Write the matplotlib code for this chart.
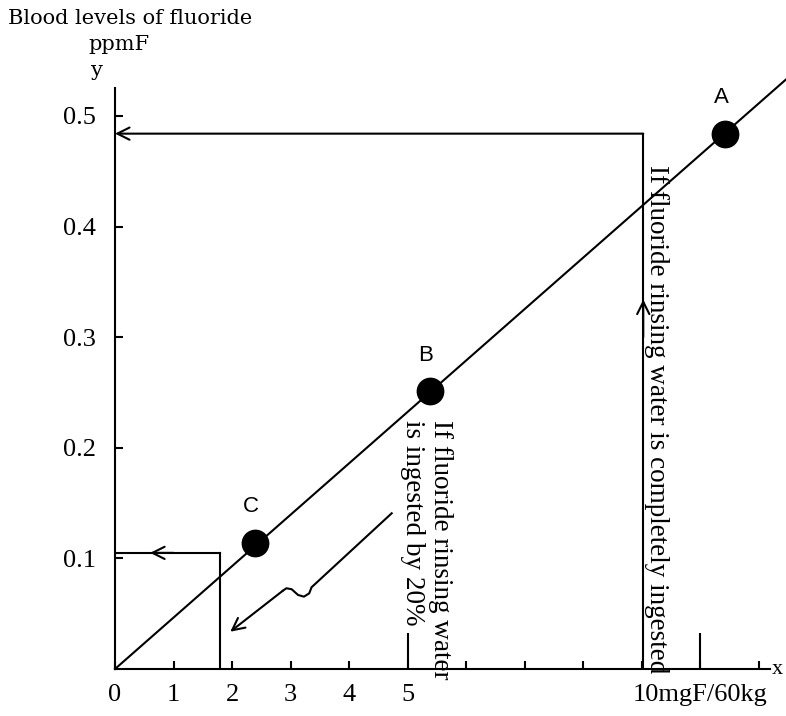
import matplotlib
matplotlib.use("Agg")
import matplotlib.pyplot as plt

# points on the line
point_names = ["A", "B", "C"]
point_x = [10.43, 5.38, 2.39]
point_y = [0.484, 0.251, 0.114]

# fitted straight line through the origin
fit_x = [0, 11.47]
fit_y = [0, 0.533]

# guide lines: complete ingestion / 20% ingestion
full_dose = 9.03
full_level = 0.484
part_dose = 1.79
part_level = 0.105

# wavy arrow pointing at the 20% dose
wave_x = [4.73, 3.36, 3.32, 3.23, 3.13, 3.02, 2.93, 2.87, 1.97]
wave_y = [0.1408, 0.0739, 0.0684, 0.0654, 0.0669, 0.0721, 0.0730, 0.0708, 0.0337]

x_ticks = [0, 1, 2, 3, 4, 5, 6, 7, 8, 9, 10, 11]
x_tick_labels = ["0", "1", "2", "3", "4", "5", "", "", "", "", "10mgF/60kg", ""]
x_long_ticks = [5, 10]
y_ticks = [0.1, 0.2, 0.3, 0.4, 0.5]
y_tick_labels = ["0.1", "0.2", "0.3", "0.4", "0.5"]

plt.rcParams["font.family"] = ["Liberation Serif", "DejaVu Serif"]

def main():
    fig = plt.figure(figsize=(7.86, 7.16), dpi=100)
    ax = fig.add_axes([115 / 786, 47 / 716, 671 / 786, 589 / 716])
    ax.set_xlim(0, 11.47)
    ax.set_ylim(0, 0.5325)

    lw = 1.5
    for s in ["top", "right"]:
        ax.spines[s].set_visible(False)
    ax.spines["left"].set_bounds(0, 0.525)
    ax.spines["bottom"].set_bounds(0, 11.2)
    ax.spines["left"].set_linewidth(lw)
    ax.spines["bottom"].set_linewidth(lw)

    ax.set_xticks(x_ticks)
    ax.set_xticklabels(x_tick_labels)
    ax.set_xticks(x_long_ticks, minor=True)
    ax.xaxis.remove_overlapping_locs = False
    ax.set_yticks(y_ticks)
    ax.set_yticklabels(y_tick_labels)
    ax.tick_params(axis="x", which="major", direction="in", length=6, width=lw,
                   pad=11, labelsize=19)
    ax.tick_params(axis="x", which="minor", direction="in", length=26, width=lw)
    ax.tick_params(axis="y", direction="in", length=6, width=lw, pad=14, labelsize=19)

    # main line and points
    ax.plot(fit_x, fit_y, color="black", lw=lw, clip_on=False)
    ax.plot(point_x, point_y, "o", color="black", ms=19)
    for name, px, py in zip(point_names, point_x, point_y):
        ax.annotate(name, (px, py), xytext=(-3, 26), textcoords="offset points",
                    ha="center", va="center", fontsize=16, family="Liberation Sans")

    arrow = dict(arrowstyle="->", lw=lw, color="black", mutation_scale=22,
                 shrinkA=0, shrinkB=0)

    # complete ingestion
    ax.plot([full_dose, full_dose], [0, full_level], color="black", lw=lw)
    ax.annotate("", xy=(full_dose, 0.334), xytext=(full_dose, 0.30), arrowprops=arrow)
    ax.annotate("", xy=(0, full_level), xytext=(full_dose, full_level), arrowprops=arrow)

    # 20% ingestion
    ax.plot([part_dose, part_dose], [0, part_level], color="black", lw=lw)
    ax.plot([0, part_dose], [part_level, part_level], color="black", lw=lw)
    ax.annotate("", xy=(0.6, part_level), xytext=(1.0, part_level), arrowprops=arrow)

    ax.plot(wave_x[:-1], wave_y[:-1], color="black", lw=lw)
    ax.annotate("", xy=(wave_x[-1], wave_y[-1]), xytext=(wave_x[-2], wave_y[-2]),
                arrowprops=arrow)

    ax.text(5.56, 0.225, "If fluoride rinsing water", rotation=-90, ha="center",
            va="top", fontsize=19.5)
    ax.text(5.08, 0.225, "is ingested by 20%", rotation=-90, ha="center",
            va="top", fontsize=19.5)
    ax.text(9.26, 0.456, "If fluoride rinsing water is completely ingested",
            rotation=-90, ha="center", va="top", fontsize=19.5)

    ax.text(11.22, 0, "x", ha="left", va="center", fontsize=16)

    fig.text(8 / 786, 1 - 18 / 716, "Blood levels of fluoride", ha="left",
             va="center", fontsize=15, family="DejaVu Serif")
    fig.text(88 / 786, 1 - 45 / 716, "ppmF", ha="left", va="center",
             fontsize=15, family="DejaVu Serif")
    fig.text(97 / 786, 1 - 70 / 716, "y", ha="center", va="center",
             fontsize=15, family="DejaVu Serif")

    fig.savefig("out.png", dpi=100)

if __name__ == "__main__":
    main()
